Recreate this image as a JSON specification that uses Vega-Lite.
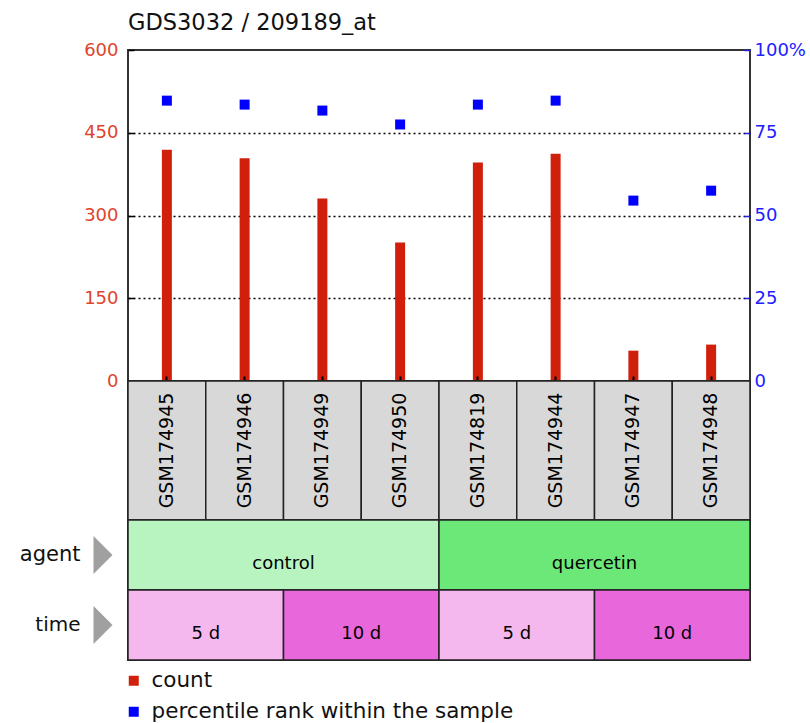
{
  "$schema": "https://vega.github.io/schema/vega-lite/v6.json",
  "background": "white",
  "padding": {"left": 18, "top": 10, "right": 5, "bottom": 0},
  "autosize": {"type": "pad"},
  "spacing": 0,
  "bounds": "flush",
  "datasets": {
    "samples": [
      {"sample": "GSM174945", "count": 419, "pct": 84.7},
      {"sample": "GSM174946", "count": 404, "pct": 83.5},
      {"sample": "GSM174949", "count": 331, "pct": 81.7},
      {"sample": "GSM174950", "count": 251, "pct": 77.5},
      {"sample": "GSM174819", "count": 396, "pct": 83.5},
      {"sample": "GSM174944", "count": 412, "pct": 84.7},
      {"sample": "GSM174947", "count": 55, "pct": 54.5},
      {"sample": "GSM174948", "count": 66, "pct": 57.5}
    ],
    "agents": [
      {"agent": "control", "row": "agent"},
      {"agent": "quercetin", "row": "agent"}
    ],
    "times": [
      {"key": "c5", "time": "5 d", "row": "time"},
      {"key": "c10", "time": "10 d", "row": "time"},
      {"key": "q5", "time": "5 d", "row": "time"},
      {"key": "q10", "time": "10 d", "row": "time"}
    ]
  },
  "vconcat": [
    {
      "width": 622,
      "height": 331,
      "title": {"text": "GDS3032 / 209189_at", "anchor": "start", "frame": "group", "fontSize": 22.5, "fontWeight": "normal", "color": "#111", "offset": 7},
      "data": {"name": "samples"},
      "encoding": {
        "x": {"field": "sample", "type": "nominal", "sort": null,
          "scale": {"paddingInner": 0, "paddingOuter": 0},
          "axis": {"labels": false, "title": null, "domain": false, "ticks": true, "tickSize": -5, "tickColor": "#000", "tickWidth": 2, "zindex": 1, "grid": false}}
      },
      "layer": [
        {
          "mark": {"type": "bar", "width": 10},
          "encoding": {
            "y": {"field": "count", "type": "quantitative", "scale": {"domain": [0, 600]},
              "axis": {"values": [0, 150, 300, 450, 600], "title": null, "grid": true, "gridDash": [2, 3], "gridColor": "#000", "gridWidth": 1.3,
                "gridOpacity": {"condition": {"test": "datum.value == 0 || datum.value == 600", "value": 0}, "value": 1},
                "labelColor": "#e0442c", "labelFontSize": 18, "tickColor": "#000", "tickSize": -6, "tickWidth": 1.5, "domain": false, "labelPadding": 16}},
            "color": {"datum": "count", "type": "nominal",
              "scale": {"domain": ["count", "percentile rank within the sample"], "range": ["#d0200c", "#0000ff"]},
              "legend": {"title": null, "orient": "none", "legendX": -5, "legendY": 620, "symbolType": "square", "symbolSize": 100, "symbolStrokeWidth": 0, "labelFontSize": 21.5, "labelColor": "#111", "labelOffset": 7, "labelLimit": 0, "rowPadding": 8, "padding": 0}}
          }
        },
        {
          "mark": {"type": "point", "shape": "square", "filled": true, "size": 100, "opacity": 1},
          "encoding": {
            "y": {"field": "pct", "type": "quantitative", "scale": {"domain": [0, 100]},
              "axis": {"orient": "right", "values": [0, 25, 50, 75, 100], "title": null, "grid": false,
                "labelColor": "#2020ff", "labelFontSize": 18, "tickColor": "#2020ff", "tickSize": -6, "tickWidth": 1.5, "domain": false, "labelPadding": 10,
                "labelExpr": "datum.value == 100 ? '100%' : datum.label"}},
            "color": {"datum": "percentile rank within the sample", "type": "nominal"}
          }
        }
      ],
      "resolve": {"scale": {"y": "independent"}, "axis": {"y": "independent"}}
    },
    {
      "width": 622,
      "height": 139,
      "data": {"name": "samples"},
      "encoding": {
        "x": {"field": "sample", "type": "nominal", "sort": null, "scale": {"paddingInner": 0, "paddingOuter": 0}, "axis": null}
      },
      "layer": [
        {"mark": {"type": "rect", "fill": "#d8d8d8", "stroke": "#222", "strokeWidth": 1.5}},
        {"mark": {"type": "text", "angle": 270, "fontSize": 19, "color": "#000", "baseline": "middle", "align": "center"},
         "encoding": {"text": {"field": "sample"}}}
      ]
    },
    {
      "width": 622,
      "height": 70,
      "data": {"name": "agents"},
      "encoding": {
        "x": {"field": "agent", "type": "nominal", "sort": null, "scale": {"paddingInner": 0, "paddingOuter": 0}, "axis": null},
        "y": {"field": "row", "type": "nominal", "scale": {"paddingInner": 0, "paddingOuter": 0},
          "axis": {"title": null, "domain": false, "ticks": false, "labelFontSize": 21, "labelColor": "#111", "labelPadding": 48}}
      },
      "layer": [
        {"mark": {"type": "rect", "stroke": "#222", "strokeWidth": 1.5},
         "encoding": {"fill": {"field": "agent", "type": "nominal", "scale": {"domain": ["control", "quercetin"], "range": ["#b8f4c0", "#6ce878"]}, "legend": null}}},
        {"mark": {"type": "text", "fontSize": 18, "dy": 9, "color": "#000"},
         "encoding": {"text": {"field": "agent"}}},
        {"transform": [{"filter": "datum.agent == 'control'"}],
         "mark": {"type": "point", "shape": "M -0.5 -1 L 0.5 0 L -0.5 1 Z", "size": 1444, "filled": true, "color": "#a0a0a0", "opacity": 1, "xOffset": -25},
         "encoding": {"x": {"datum": "control", "type": "nominal", "bandPosition": 0}}}
      ]
    },
    {
      "width": 622,
      "height": 70,
      "data": {"name": "times"},
      "encoding": {
        "x": {"field": "key", "type": "nominal", "sort": null, "scale": {"paddingInner": 0, "paddingOuter": 0}, "axis": null},
        "y": {"field": "row", "type": "nominal", "scale": {"paddingInner": 0, "paddingOuter": 0},
          "axis": {"title": null, "domain": false, "ticks": false, "labelFontSize": 20, "labelColor": "#111", "labelPadding": 48}}
      },
      "layer": [
        {"mark": {"type": "rect", "stroke": "#222", "strokeWidth": 1.5},
         "encoding": {"fill": {"field": "time", "type": "nominal", "scale": {"domain": ["5 d", "10 d"], "range": ["#f4b8ee", "#e868dc"]}, "legend": null}}},
        {"mark": {"type": "text", "fontSize": 18, "dy": 9, "color": "#000"},
         "encoding": {"text": {"field": "time"}}},
        {"transform": [{"filter": "datum.key == 'c5'"}],
         "mark": {"type": "point", "shape": "M -0.5 -1 L 0.5 0 L -0.5 1 Z", "size": 1444, "filled": true, "color": "#a0a0a0", "opacity": 1, "xOffset": -25},
         "encoding": {"x": {"datum": "c5", "type": "nominal", "bandPosition": 0}}}
      ]
    }
  ],
  "resolve": {"scale": {"x": "independent", "y": "independent", "fill": "independent"}},
  "config": {
    "font": "DejaVu Sans",
    "view": {"stroke": "#333", "strokeWidth": 2}
  }
}
